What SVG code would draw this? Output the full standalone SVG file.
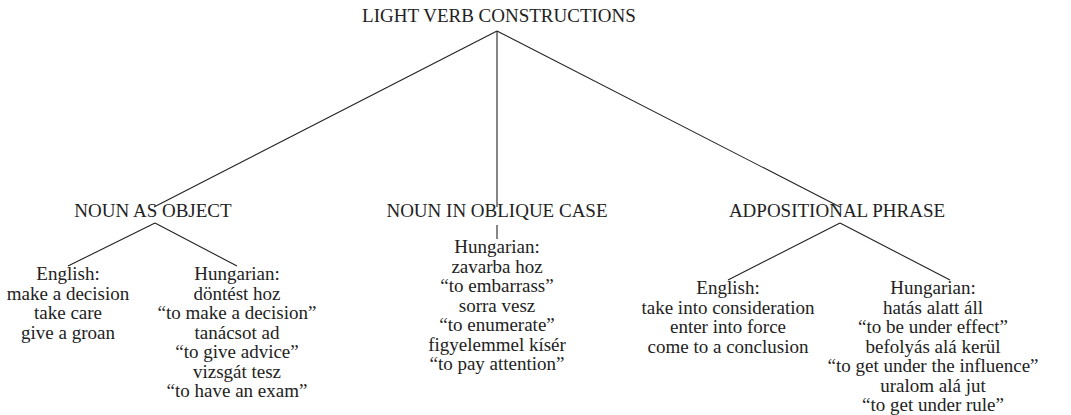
<svg xmlns="http://www.w3.org/2000/svg" width="1071" height="415" viewBox="0 0 1071 415">
<style>
text{font-family:"Liberation Serif","Times New Roman",serif;font-size:19px;fill:#222;text-anchor:middle}
.c line{stroke:#222;stroke-width:1.1;fill:none}
</style>
<rect width="1071" height="415" fill="#fff"/>
<g class="c" id="connectors">
<line x1="497" y1="31" x2="154" y2="207"/>
<line x1="497" y1="31" x2="497" y2="207"/>
<line x1="497" y1="31" x2="840" y2="207"/>
<line x1="155" y1="223" x2="68" y2="266"/>
<line x1="155" y1="223" x2="237" y2="266"/>
<line x1="497" y1="225" x2="497" y2="239"/>
<line x1="840" y1="223" x2="728" y2="280"/>
<line x1="840" y1="223" x2="950" y2="280"/>
</g>
<g id="root"><text x="499" y="22">LIGHT VERB CONSTRUCTIONS</text></g>
<g id="noun-object"><text x="153" y="217">NOUN AS OBJECT</text></g>
<g id="noun-oblique"><text x="497" y="217">NOUN IN OBLIQUE CASE</text></g>
<g id="adpositional"><text x="837" y="217">ADPOSITIONAL PHRASE</text></g>
<g id="nao-english">
<text x="68" y="280">English:</text>
<text x="68" y="299.5">make a decision</text>
<text x="68" y="319">take care</text>
<text x="68" y="338.5">give a groan</text>
</g>
<g id="nao-hungarian">
<text x="237" y="280">Hungarian:</text>
<text x="237" y="299.5">döntést hoz</text>
<text x="237" y="319">“to make a decision”</text>
<text x="237" y="338.5">tanácsot ad</text>
<text x="237" y="358">“to give advice”</text>
<text x="237" y="377.5">vizsgát tesz</text>
<text x="237" y="397">“to have an exam”</text>
</g>
<g id="noc-hungarian">
<text x="497" y="253">Hungarian:</text>
<text x="497" y="272.5">zavarba hoz</text>
<text x="497" y="292">“to embarrass”</text>
<text x="497" y="311.5">sorra vesz</text>
<text x="497" y="331">“to enumerate”</text>
<text x="497" y="350.5">figyelemmel kísér</text>
<text x="497" y="370">“to pay attention”</text>
</g>
<g id="ap-english">
<text x="728" y="294">English:</text>
<text x="728" y="313.5">take into consideration</text>
<text x="728" y="333">enter into force</text>
<text x="728" y="352.5">come to a conclusion</text>
</g>
<g id="ap-hungarian">
<text x="933" y="294">Hungarian:</text>
<text x="933" y="313.5">hatás alatt áll</text>
<text x="933" y="333">“to be under effect”</text>
<text x="933" y="352.5">befolyás alá kerül</text>
<text x="933" y="372">“to get under the influence”</text>
<text x="933" y="391.5">uralom alá jut</text>
<text x="933" y="411">“to get under rule”</text>
</g>
</svg>
